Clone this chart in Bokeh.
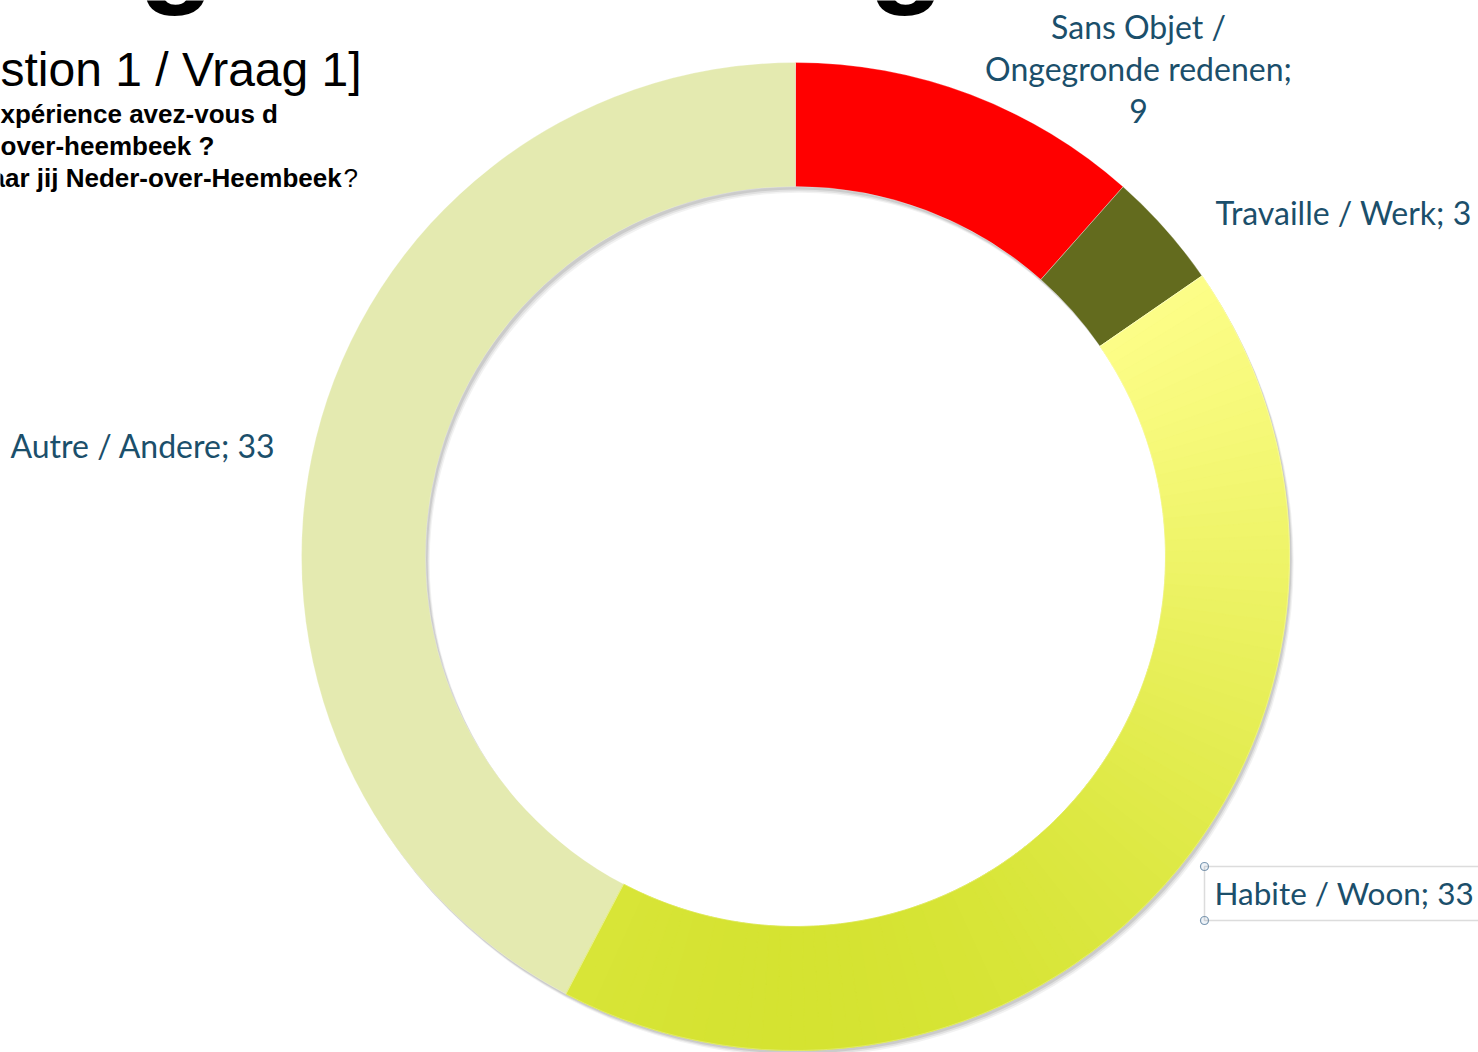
import numpy as np
from bokeh.plotting import figure
from bokeh.models import Range1d, Label, BoxAnnotation
from bokeh.embed import file_html
from bokeh.resources import INLINE

# ---- data ----
categories = ["Sans Objet / Ongegronde redenen", "Travaille / Werk", "Habite / Woon", "Autre / Andere"]
values = [9, 3, 33, 33]
colors = ["#FF0000", "#636B1E", "#EEF26A", "#E4EAB0"]

title_text = "stion 1 / Vraag 1]"
question_lines = ["xpérience avez-vous d", "over-heembeek ?", "aar jij Neder-over-Heembeek"]
question_x = [0, 0, -10]

W, H = 1478, 1052
p = figure(width=W, height=H, x_range=Range1d(0, W), y_range=Range1d(0, H),
           output_backend="svg", toolbar_location=None, min_border=0,
           x_axis_location=None, y_axis_location=None)
p.grid.visible = False
p.outline_line_color = None
p.background_fill_color = "white"

cx, cy = 795, H - 556
r_out, r_in = 494, 370

total = float(sum(values))
cum = np.concatenate([[0], np.cumsum(values)])
starts = np.pi / 2 - 2 * np.pi * cum[:-1] / total
ends = np.pi / 2 - 2 * np.pi * cum[1:] / total

# soft drop shadow (down-right)
for off, a in [(6, 0.05), (4.5, 0.07), (3, 0.09)]:
    p.annulus(x=cx + off * 0.7, y=cy - off, inner_radius=r_in, outer_radius=r_out,
              fill_color="black", fill_alpha=a, line_color=None)

# donut slices
p.annular_wedge(x=cx, y=cy, inner_radius=r_in, outer_radius=r_out,
                start_angle=list(starts), end_angle=list(ends), direction="clock",
                fill_color=colors, line_color=None)

# vertical gradient overlay on the "Habite" slice (style only)
hi = 2
n_sub = 90
edges = np.linspace(starts[hi], ends[hi], n_sub + 1)
top_c = np.array([255, 255, 140])
bot_c = np.array([210, 225, 42])
sub_cols = []
for a0, a1 in zip(edges[:-1], edges[1:]):
    am = 0.5 * (a0 + a1)
    ys = 556 - 0.5 * (r_out + r_in) * np.sin(am)
    t = np.clip((ys - 278) / (1050 - 278), 0, 1)
    c = (top_c + (bot_c - top_c) * t).astype(int)
    sub_cols.append("#%02x%02x%02x" % tuple(c))
p.annular_wedge(x=cx, y=cy, inner_radius=r_in, outer_radius=r_out,
                start_angle=list(edges[:-1]), end_angle=list(edges[1:]), direction="clock",
                fill_color=sub_cols, line_color=sub_cols, line_width=1)

# thin separators between slices
p.annular_wedge(x=cx, y=cy, inner_radius=r_in, outer_radius=r_out,
                start_angle=list(starts), end_angle=list(ends), direction="clock",
                fill_color=None, line_color="white", line_alpha=0.25, line_width=1)

# ---- data labels ----
lab_col = "#1B4F6B"
lab_font = "Lato"
lab_size = "32px"
label_texts = []
for i, (c, v) in enumerate(zip(categories, values)):
    if i == 0:
        label_texts.append(c.replace(" / ", " /\n") + ";\n" + str(v))
    else:
        label_texts.append(f"{c}; {v}")

p.add_layout(Label(x=1138, y=H - 68, text=label_texts[0], text_align="center", text_baseline="middle",
                   text_font=lab_font, text_font_size=lab_size, text_color=lab_col, text_line_height=1.08))
p.add_layout(Label(x=1215, y=H - 212, text=label_texts[1], text_align="left", text_baseline="middle",
                   text_font=lab_font, text_font_size=lab_size, text_color=lab_col))
p.add_layout(Label(x=1214, y=H - 892, text=label_texts[2], text_align="left", text_baseline="middle",
                   text_font=lab_font, text_font_size="31.5px", text_color=lab_col))
p.add_layout(Label(x=10, y=H - 445, text=label_texts[3], text_align="left", text_baseline="middle",
                   text_font=lab_font, text_font_size=lab_size, text_color=lab_col))

# selection box around the "Habite" label
p.add_layout(BoxAnnotation(left=1204, right=1520, bottom=H - 920, top=H - 866,
                           fill_alpha=0, line_color="#8C8C8C", line_width=1.5))
p.scatter(x=[1204, 1204], y=[H - 866, H - 920], size=8, marker="circle",
          fill_color="#EEF3F8", line_color="#7B98B2", line_width=1.2)

# ---- slide text at the top left ----
p.add_layout(Label(x=0, y=H - 69, text=title_text, text_align="left", text_baseline="middle",
                   text_font="Liberation Sans", text_font_size="48px", text_color="black"))
for k, line in enumerate(question_lines):
    p.add_layout(Label(x=question_x[k], y=H - (113 + 32 * k), text=line, text_align="left",
                       text_baseline="middle", text_font="Liberation Sans", text_font_size="26px",
                       text_font_style="bold", text_color="black"))
p.add_layout(Label(x=343, y=H - 177, text="?", text_align="left", text_baseline="middle",
                   text_font="Liberation Sans", text_font_size="26px", text_color="black"))

# cut-off huge heading glyphs at the very top
for gx in [138, 868]:
    p.add_layout(Label(x=gx, y=H - 15, text="g", text_align="left", text_baseline="bottom",
                       text_font="Liberation Sans", text_font_size="125px", text_font_style="bold",
                       text_color="black"))

open("out.html", "w").write(file_html(p, INLINE))
